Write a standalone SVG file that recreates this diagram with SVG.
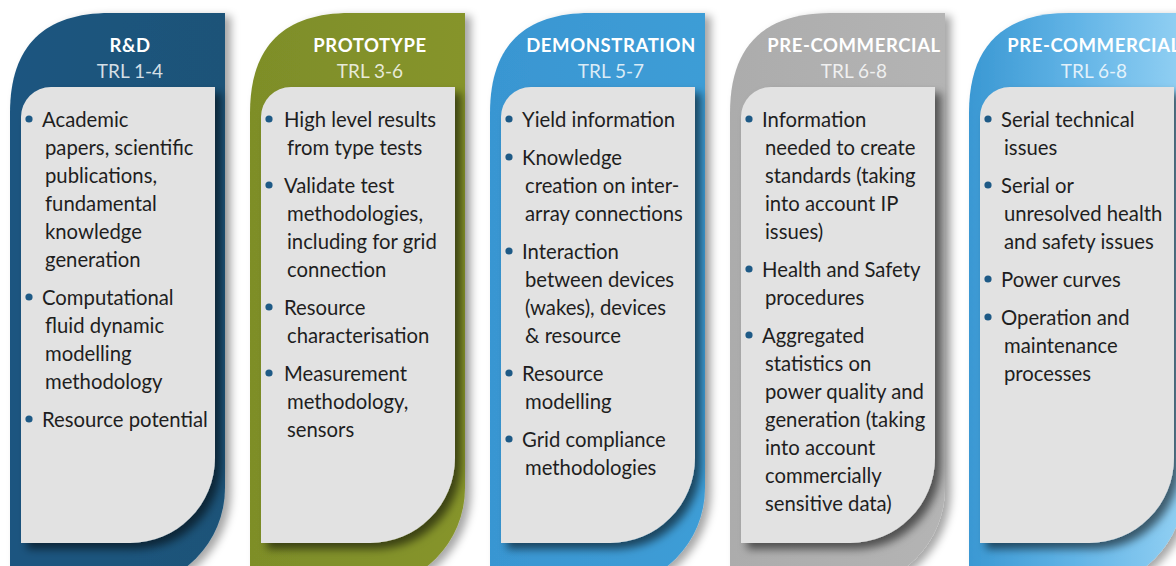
<svg xmlns="http://www.w3.org/2000/svg" width="1176" height="566" viewBox="0 0 1176 566">
<defs>
<linearGradient id="g1" x1="0" y1="0" x2="1" y2="0"><stop offset="0" stop-color="#1A5580"/><stop offset="1" stop-color="#1B5378"/></linearGradient>
<linearGradient id="g2" x1="0" y1="0" x2="1" y2="0"><stop offset="0" stop-color="#7E8E28"/><stop offset="1" stop-color="#86942C"/></linearGradient>
<linearGradient id="g3" x1="0" y1="0" x2="1" y2="0"><stop offset="0" stop-color="#3996D2"/><stop offset="1" stop-color="#3E9DD6"/></linearGradient>
<linearGradient id="g4" x1="0" y1="0" x2="1" y2="0"><stop offset="0" stop-color="#ACACAC"/><stop offset="1" stop-color="#B4B4B4"/></linearGradient>
<linearGradient id="g5" x1="0" y1="0" x2="1" y2="0"><stop offset="0" stop-color="#3A98D3"/><stop offset="0.5" stop-color="#62B4E6"/><stop offset="1" stop-color="#92D0F3"/></linearGradient>
<filter id="so" x="-10%" y="-10%" width="130%" height="130%"><feDropShadow dx="6" dy="3" stdDeviation="4" flood-color="#000" flood-opacity="0.35"/></filter>
<filter id="si" x="-10%" y="-10%" width="130%" height="130%"><feDropShadow dx="6" dy="6" stdDeviation="4" flood-color="#000" flood-opacity="0.55"/></filter>
</defs>
<style>
.t{font-family:Lato,"Liberation Sans",sans-serif;font-size:20.3px;fill:#1E1E1E}
.h{font-family:Lato,"Liberation Sans",sans-serif;font-size:18.5px;font-weight:bold;fill:#fff;text-anchor:middle;letter-spacing:0.6px}
.s{font-family:Lato,"Liberation Sans",sans-serif;font-size:19px;fill:#fff;fill-opacity:0.82;text-anchor:middle}
.p{fill:#E2E2E2}
.b{fill:#1E5A86}
</style>
<rect width="1176" height="566" fill="#fff"/>

<g id="col1">
<path filter="url(#so)" fill="url(#g1)" d="M110,13 H225 V488 A100,100 0 0 1 125,588 H10 V113 C10,45 45,13 110,13 Z"/>
<path class="p" filter="url(#si)" d="M51,87 H215 V458 A85,85 0 0 1 130,543 H21 V117 A30,30 0 0 1 51,87 Z"/>
<text class="h" x="130" y="52">R&amp;D</text>
<text class="s" x="130" y="78">TRL 1-4</text>
<circle class="b" cx="29" cy="119" r="3.6"/><circle class="b" cx="29" cy="297" r="3.6"/><circle class="b" cx="29" cy="419" r="3.6"/>
<text class="t" x="42" y="127">Academic</text>
<text class="t" x="45" y="155">papers, scientific</text>
<text class="t" x="45" y="183">publications,</text>
<text class="t" x="45" y="211">fundamental</text>
<text class="t" x="45" y="239">knowledge</text>
<text class="t" x="45" y="267">generation</text>
<text class="t" x="42" y="305">Computational</text>
<text class="t" x="45" y="333">fluid dynamic</text>
<text class="t" x="45" y="361">modelling</text>
<text class="t" x="45" y="389">methodology</text>
<text class="t" x="42" y="427">Resource potential</text>
</g>

<g id="col2">
<path filter="url(#so)" fill="url(#g2)" d="M350,13 H465 V488 A100,100 0 0 1 365,588 H250 V113 C250,45 285,13 350,13 Z"/>
<path class="p" filter="url(#si)" d="M291,87 H455 V458 A85,85 0 0 1 370,543 H261 V117 A30,30 0 0 1 291,87 Z"/>
<text class="h" x="370" y="52">PROTOTYPE</text>
<text class="s" x="370" y="78">TRL 3-6</text>
<circle class="b" cx="269" cy="119" r="3.6"/><circle class="b" cx="269" cy="185" r="3.6"/><circle class="b" cx="269" cy="307" r="3.6"/><circle class="b" cx="269" cy="373" r="3.6"/>
<text class="t" x="284" y="127">High level results</text>
<text class="t" x="287" y="155">from type tests</text>
<text class="t" x="284" y="193">Validate test</text>
<text class="t" x="287" y="221">methodologies,</text>
<text class="t" x="287" y="249">including for grid</text>
<text class="t" x="287" y="277">connection</text>
<text class="t" x="284" y="315">Resource</text>
<text class="t" x="287" y="343">characterisation</text>
<text class="t" x="284" y="381">Measurement</text>
<text class="t" x="287" y="409">methodology,</text>
<text class="t" x="287" y="437">sensors</text>
</g>

<g id="col3">
<path filter="url(#so)" fill="url(#g3)" d="M590,13 H705 V488 A100,100 0 0 1 605,588 H490 V113 C490,45 525,13 590,13 Z"/>
<path class="p" filter="url(#si)" d="M531,87 H695 V458 A85,85 0 0 1 610,543 H501 V117 A30,30 0 0 1 531,87 Z"/>
<text class="h" x="611" y="52">DEMONSTRATION</text>
<text class="s" x="611" y="78">TRL 5-7</text>
<circle class="b" cx="509" cy="119" r="3.6"/><circle class="b" cx="509" cy="157" r="3.6"/><circle class="b" cx="509" cy="251" r="3.6"/><circle class="b" cx="509" cy="373" r="3.6"/><circle class="b" cx="509" cy="439" r="3.6"/>
<text class="t" x="522" y="127">Yield information</text>
<text class="t" x="522" y="165">Knowledge</text>
<text class="t" x="525" y="193">creation on inter-</text>
<text class="t" x="525" y="221">array connections</text>
<text class="t" x="522" y="259">Interaction</text>
<text class="t" x="525" y="287">between devices</text>
<text class="t" x="525" y="315">(wakes), devices</text>
<text class="t" x="525" y="343">&amp; resource</text>
<text class="t" x="522" y="381">Resource</text>
<text class="t" x="525" y="409">modelling</text>
<text class="t" x="522" y="447">Grid compliance</text>
<text class="t" x="525" y="475">methodologies</text>
</g>

<g id="col4">
<path filter="url(#so)" fill="url(#g4)" d="M830,13 H945 V488 A100,100 0 0 1 845,588 H730 V113 C730,45 765,13 830,13 Z"/>
<path class="p" filter="url(#si)" d="M771,87 H935 V458 A85,85 0 0 1 850,543 H741 V117 A30,30 0 0 1 771,87 Z"/>
<text class="h" x="854" y="52">PRE-COMMERCIAL</text>
<text class="s" x="854" y="78">TRL 6-8</text>
<circle class="b" cx="749" cy="119" r="3.6"/><circle class="b" cx="749" cy="269" r="3.6"/><circle class="b" cx="749" cy="335" r="3.6"/>
<text class="t" x="762" y="127">Information</text>
<text class="t" x="765" y="155">needed to create</text>
<text class="t" x="765" y="183">standards (taking</text>
<text class="t" x="765" y="211">into account IP</text>
<text class="t" x="765" y="239">issues)</text>
<text class="t" x="762" y="277">Health and Safety</text>
<text class="t" x="765" y="305">procedures</text>
<text class="t" x="762" y="343">Aggregated</text>
<text class="t" x="765" y="371">statistics on</text>
<text class="t" x="765" y="399">power quality and</text>
<text class="t" x="765" y="427">generation (taking</text>
<text class="t" x="765" y="455">into account</text>
<text class="t" x="765" y="483">commercially</text>
<text class="t" x="765" y="511">sensitive data)</text>
</g>

<g id="col5">
<path filter="url(#so)" fill="url(#g5)" d="M1069,13 H1184 V488 A100,100 0 0 1 1084,588 H969 V113 C969,45 1004,13 1069,13 Z"/>
<path class="p" filter="url(#si)" d="M1010,87 H1174 V458 A85,85 0 0 1 1089,543 H980 V117 A30,30 0 0 1 1010,87 Z"/>
<text class="h" x="1094" y="52">PRE-COMMERCIAL</text>
<text class="s" x="1094" y="78">TRL 6-8</text>
<circle class="b" cx="988" cy="119" r="3.6"/><circle class="b" cx="988" cy="185" r="3.6"/><circle class="b" cx="988" cy="279" r="3.6"/><circle class="b" cx="988" cy="317" r="3.6"/>
<text class="t" x="1001" y="127">Serial technical</text>
<text class="t" x="1004" y="155">issues</text>
<text class="t" x="1001" y="193">Serial or</text>
<text class="t" x="1004" y="221">unresolved health</text>
<text class="t" x="1004" y="249">and safety issues</text>
<text class="t" x="1001" y="287">Power curves</text>
<text class="t" x="1001" y="325">Operation and</text>
<text class="t" x="1004" y="353">maintenance</text>
<text class="t" x="1004" y="381">processes</text>
</g>
</svg>
